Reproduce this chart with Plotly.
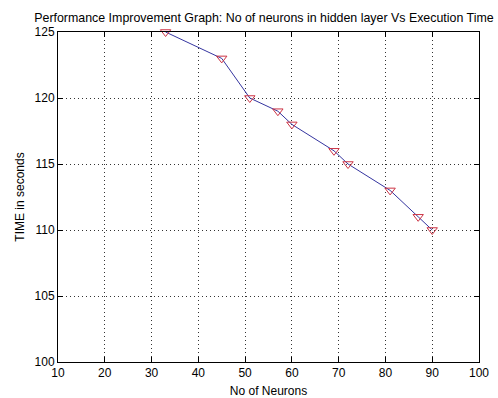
import plotly.graph_objects as go

neurons = [33, 45, 51, 57, 60, 69, 72, 81, 87, 90]
time_sec = [125, 123, 120, 119, 118, 116, 115, 113, 111, 110]
x_ticks = [10, 20, 30, 40, 50, 60, 70, 80, 90, 100]
y_ticks = [100, 105, 110, 115, 120, 125]

FONT = "Liberation Sans, Arial"

fig = go.Figure()
fig.add_trace(go.Scatter(
    x=neurons, y=time_sec, mode="lines+markers",
    line=dict(color="#3535a0", width=1),
    marker=dict(symbol="triangle-down-open", size=9, color="#cc3344", line=dict(width=1)),
    cliponaxis=False, showlegend=False,
))

axis_common = dict(
    showline=True, linecolor="black", linewidth=1, mirror="ticks",
    ticks="inside", ticklen=5, tickcolor="black",
    showgrid=True, gridcolor="#333333", griddash="1px,3px", gridwidth=1,
    zeroline=False, automargin=False,
    tickfont=dict(family=FONT, size=12, color="black"),
)

fig.update_xaxes(range=[10, 100], tickvals=x_ticks, **axis_common,
                 title=dict(text="No of Neurons", font=dict(family=FONT, size=12, color="black"), standoff=9))
fig.update_yaxes(range=[100, 125], tickvals=y_ticks, **axis_common,
                 title=dict(text="TIME in seconds", font=dict(family=FONT, size=12, color="black"), standoff=7))

fig.update_layout(
    width=498, height=398,
    margin=dict(l=58, r=19, t=32, b=36),
    paper_bgcolor="white", plot_bgcolor="white",
    title=dict(text="Performance Improvement Graph: No of neurons in hidden layer Vs Execution Time",
               font=dict(family=FONT, size=12.4, color="black"),
               xref="container", x=0.53, xanchor="center",
               yref="container", y=0.955, yanchor="middle"),
)

fig.write_html("out.html", config={"displayModeBar": False},
               post_script="document.body.style.margin='0';document.body.style.overflow='hidden';")
